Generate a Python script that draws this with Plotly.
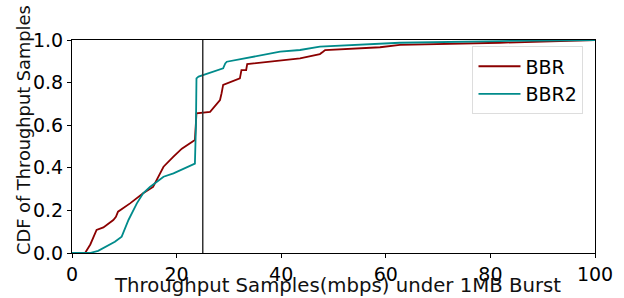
import plotly.graph_objects as go

bbr_x = [0, 2.5, 3.5, 4.7, 6, 7.9, 8.4, 8.8, 11.1, 13.6, 15.5, 16.5, 17.5, 19.4, 21, 23.5, 23.7, 23.8,
         26.4, 28.3, 28.6, 28.9, 32.1, 32.3, 32.4, 33.3, 33.5, 43.6, 47.4, 48.0, 48.4, 58.9, 62.7, 81.8, 98.4, 100]
bbr_y = [0, 0, 0.04, 0.108, 0.12, 0.155, 0.17, 0.194, 0.233, 0.28, 0.31, 0.358, 0.405, 0.452, 0.49, 0.53, 0.6, 0.656,
         0.663, 0.718, 0.75, 0.789, 0.82, 0.84, 0.859, 0.859, 0.887, 0.914, 0.934, 0.945, 0.953, 0.966, 0.977, 0.987, 1.0, 1.0]

bbr2_x = [0, 3.4, 5, 6.6, 8.2, 9.5, 10.8, 12.4, 13.6, 14.9, 17.5, 19.4, 22.2, 23.5, 23.7, 23.8, 24.2,
          28.3, 28.9, 29.3, 29.6, 39.8, 43.6, 47.4, 58.9, 62.7, 81.8, 98.4, 100]
bbr2_y = [0, 0, 0.01, 0.03, 0.053, 0.077, 0.155, 0.233, 0.28, 0.31, 0.358, 0.374, 0.405, 0.42, 0.6, 0.82, 0.828,
          0.859, 0.867, 0.89, 0.898, 0.945, 0.953, 0.969, 0.981, 0.987, 0.995, 1.0, 1.0]

x_ticks = [0, 20, 40, 60, 80, 100]
y_ticks = [0.0, 0.2, 0.4, 0.6, 0.8, 1.0]
y_tick_labels = ["0.0", "0.2", "0.4", "0.6", "0.8", "1.0"]
burst_x = 25
x_title = "Throughput Samples(mbps) under 1MB Burst"
y_title = "CDF of Throughput Samples"

font = "DejaVu Sans"
fig = go.Figure()
fig.add_trace(go.Scatter(x=bbr_x, y=bbr_y, mode="lines", name="BBR",
                         line=dict(color="#8B0000", width=1.8)))
fig.add_trace(go.Scatter(x=bbr2_x, y=bbr2_y, mode="lines", name="BBR2",
                         line=dict(color="#008B8B", width=1.8)))
fig.add_shape(type="line", x0=burst_x, x1=burst_x, y0=0, y1=1, xref="x", yref="y",
              line=dict(color="#333333", width=1.5))

fig.add_annotation(text=x_title, xref="paper", yref="paper", x=0.5075, y=-0.153,
                   xanchor="center", yanchor="middle", showarrow=False,
                   font=dict(size=19.7, family=font, color="#111111"))
fig.add_annotation(text=y_title, xref="paper", yref="paper", x=-0.094, y=0.577,
                   xanchor="center", yanchor="middle", showarrow=False, textangle=-90,
                   font=dict(size=17.8, family=font, color="#111111"))

fig.update_layout(
    width=624, height=298,
    margin=dict(l=72, r=29, t=40, b=45, autoexpand=False),
    paper_bgcolor="white", plot_bgcolor="white",
    font=dict(family=font, size=18, color="black"),
    showlegend=True,
    legend=dict(x=0.978, y=0.97, xanchor="right", yanchor="top",
                bgcolor="rgba(255,255,255,0.8)", bordercolor="#dddddd", borderwidth=1,
                font=dict(size=19, family=font), itemwidth=42),
    xaxis=dict(range=[0, 100], tickvals=x_ticks, ticks="outside", ticklen=4, tickcolor="black",
               showline=True, linecolor="black", linewidth=1, mirror=True, showgrid=False, zeroline=False,
               automargin=False, tickfont=dict(size=19)),
    yaxis=dict(range=[0, 1], tickvals=y_ticks, ticktext=y_tick_labels, ticks="outside", ticklen=4,
               tickcolor="black", showline=True, linecolor="black", linewidth=1, mirror=True,
               showgrid=False, zeroline=False, automargin=False, tickfont=dict(size=19)),
)
fig.write_html("out.html", config={"displayModeBar": False},
               post_script="document.body.style.margin='0';document.body.style.overflow='hidden';")
